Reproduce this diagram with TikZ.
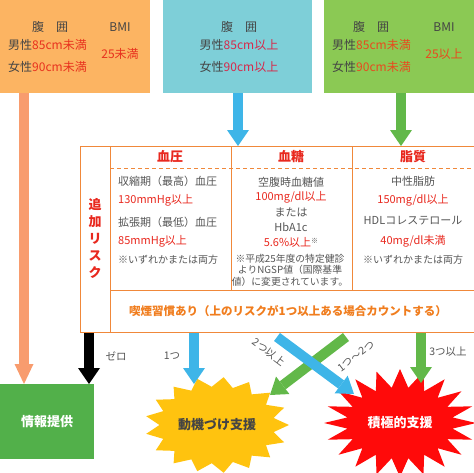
\documentclass[tikz,border=0pt]{standalone}
\usepackage{fontspec}
\setmainfont{Noto Sans CJK JP}
\usetikzlibrary{arrows.meta,calc}
\definecolor{obox}{HTML}{FCB462}
\definecolor{tbox}{HTML}{7ECFD8}
\definecolor{gbox}{HTML}{8BC954}
\definecolor{dgray}{HTML}{444444}
\definecolor{mgray}{HTML}{555555}
\definecolor{ored}{HTML}{E8321E}
\definecolor{tred}{HTML}{D7284A}
\definecolor{gred}{HTML}{E84A1E}
\definecolor{rred}{HTML}{E8281E}
\definecolor{salmon}{HTML}{F89C6E}
\definecolor{skyb}{HTML}{3EB5E8}
\definecolor{arrg}{HTML}{62B849}
\definecolor{rskor}{HTML}{F0883A}
\definecolor{smk}{HTML}{F07D1E}
\definecolor{infog}{HTML}{52B04A}
\definecolor{staryel}{HTML}{FFC30F}
\definecolor{starred}{HTML}{FF0A0A}
\begin{document}
\begin{tikzpicture}[x=1pt,y=-1pt,
  boxn/.style={anchor=north west, inner sep=0pt, minimum height=93pt},
  t12/.style={inner sep=0pt, text=dgray, font=\fontsize{12}{14}\selectfont},
  t11/.style={inner sep=0pt, text=mgray, font=\fontsize{11}{13}\selectfont},
  t10/.style={inner sep=0pt, text=mgray, font=\fontsize{10}{12}\selectfont},
  hdr/.style={inner sep=0pt, text=rred, font=\fontsize{13}{15}\selectfont\bfseries},
  lbl/.style={inner sep=0pt, text=mgray, font=\fontsize{10.5}{12}\selectfont},
  outl/.style={inner sep=0pt, font=\fontsize{13}{15}\selectfont\bfseries},
  barrow/.style={line width=10pt, -{Triangle[width=22pt,length=16pt,line width=0pt]}},
  rline/.style={draw=rskor, line width=0.9pt}]
\useasboundingbox (0,0) rectangle (474,472);

% top boxes
\node[boxn, fill=obox, minimum width=150pt] (ob) at (0,0) {};
\node[boxn, fill=tbox, minimum width=149pt] (tb) at (163,0) {};
\node[boxn, fill=gbox, minimum width=152pt] (gb) at (324,0) {};

\node[t12] (o1) at (50,27) {腹　囲};
\node[t12] (o2) at (120,27) {BMI};
\node[t12, anchor=west] (o3) at (8,45) {男性\textcolor{ored}{85cm未満}};
\node[t12, anchor=west] (o4) at (8,67) {女性\textcolor{ored}{90cm未満}};
\node[t12, text=ored] (o5) at (120,54) {25未満};

\node[t12] (t1) at (239,27) {腹　囲};
\node[t12] (t3) at (239,45) {男性\textcolor{tred}{85cm以上}};
\node[t12] (t4) at (239,67) {女性\textcolor{tred}{90cm以上}};

\node[t12] (g1) at (371,27) {腹　囲};
\node[t12] (g2) at (444,27) {BMI};
\node[t12, anchor=west] (g3) at (332,45) {男性\textcolor{gred}{85cm未満}};
\node[t12, anchor=west] (g4) at (332,67) {女性\textcolor{gred}{90cm未満}};
\node[t12, text=gred] (g5) at (444,54) {25以上};

% risk table
\node[rline, draw, anchor=north west, inner sep=0pt, minimum width=396pt, minimum height=186pt] (risk) at (80,146) {};
\draw[rline] (110,146) -- (110,332);
\draw[rline] (231,146) -- (231,290);
\draw[rline] (352,146) -- (352,290);
\draw[rline] (110,290) -- (476,290);
\draw[rline, dash pattern=on 4pt off 3pt] (110,168) -- (476,168);

\node[hdr, align=center, font=\fontsize{13}{17}\selectfont\bfseries] (tsr) at (95,238) {追\\加\\リ\\ス\\ク};
\node[hdr] (h1) at (170,157) {血圧};
\node[hdr] (h2) at (291,157) {血糖};
\node[hdr] (h3) at (413,157) {脂質};

\node[t11, anchor=west] (c11) at (118,181) {収縮期（最高）血圧};
\node[t11, anchor=west, text=rred] (c12) at (118,200) {130mmHg以上};
\node[t11, anchor=west] (c13) at (118,222) {拡張期（最低）血圧};
\node[t11, anchor=west, text=rred] (c14) at (118,241) {85mmHg以上};
\node[t10, anchor=west] (c15) at (118,260) {※いずれかまたは両方};

\node[t11] (c21) at (291,182) {空腹時血糖値};
\node[t11, text=rred] (c22) at (291,197) {100mg/dl以上};
\node[t11] (c23) at (291,212) {または};
\node[t11] (c24) at (291,227) {HbA1c};
\node[t11] (c25) at (291,242) {\textcolor{rred}{5.6\%以上}\raisebox{3pt}{\fontsize{7}{7}\selectfont ※}};
\node[t10, align=center, font=\fontsize{9.8}{11.5}\selectfont] (c26) at (290,270) {※平成25年度の特定健診\\よりNGSP値（国際基準\\値）に変更されています。};

\node[t11] (c31) at (413,181) {中性脂肪};
\node[t11, text=rred] (c32) at (413,200) {150mg/dl以上};
\node[t11] (c33) at (413,221) {HDLコレステロール};
\node[t11, text=rred] (c34) at (413,241) {40mg/dl未満};
\node[t10] (c35) at (413,260) {※いずれかまたは両方};

\node[inner sep=0pt, text=smk, font=\fontsize{11.5}{13}\selectfont\bfseries] (smoke) at (288,311) {喫煙習慣あり（上のリスクが1つ以上ある場合カウントする）};

% outcomes
\node[fill=infog, anchor=north west, inner sep=0pt, minimum width=94pt, minimum height=75pt, text=white, font=\fontsize{13}{15}\selectfont\bfseries] (info) at (0,384) {情報提供};

\fill[staryel] plot[variable=\k, samples at={0,...,33}] ({217+72*(mod(\k,2)==0?1:0.8)*cos(\k*360/34)}, {425+48*(mod(\k,2)==0?1:0.8)*sin(\k*360/34)}) -- cycle;
\node[outl, text=dgray] (motiv) at (217,425) {動機づけ支援};

\fill[starred] plot[variable=\k, samples at={0,...,39}] ({400+76*(mod(\k,2)==0?1:0.7)*cos(\k*360/40)}, {423+54*(mod(\k,2)==0?1:0.66)*sin(\k*360/40)}) -- cycle;
\node[outl, text=white] (active) at (400,423) {積極的支援};

% arrows from top boxes
\coordinate (a1) at ($(ob.south west)+(24,0)$);
\draw[barrow, draw=salmon, -{Triangle[width=19pt,length=20pt,line width=0pt]}] (a1) -- (a1 |- info.north);
\coordinate (a2) at ($(tb.south west)+(75,0)$);
\draw[barrow, draw=skyb] (a2) -- (a2 |- risk.north);
\coordinate (a3) at ($(gb.south west)+(77,0)$);
\draw[barrow, draw=arrg] (a3) -- (a3 |- risk.north);

% arrows from risk table
\coordinate (b1) at ($(risk.south west)+(9,0)$);
\draw[barrow, draw=black] (b1) -- (b1 |- info.north);
\coordinate (b2) at ($(risk.south west)+(114,0)$);
\coordinate (b2e) at (194,384);
\draw[barrow, draw=skyb] (b2) -- (b2e);
\coordinate (b3) at ($(risk.south west)+(341,0)$);
\coordinate (b3e) at (421,383);
\draw[barrow, draw=arrg] (b3) -- (b3e);
\coordinate (d1s) at (277,337);
\coordinate (d1e) at (354,394);
\coordinate (d2s) at (346,337);
\coordinate (d2e) at (270,395);
\draw[barrow, draw=arrg] (d2s) -- (d2e);
\draw[barrow, draw=skyb] (d1s) -- (d1e);

\node[lbl] (l0) at (116,356) {ゼロ};
\node[lbl] (l1) at (172,356) {1つ};
\node[lbl, rotate=-37] (l2) at (269,352) {2つ以上};
\node[lbl, rotate=37] (l3) at (356,356) {1つ〜2つ};
\node[lbl] (l4) at (448,352) {3つ以上};
\end{tikzpicture}
\end{document}
